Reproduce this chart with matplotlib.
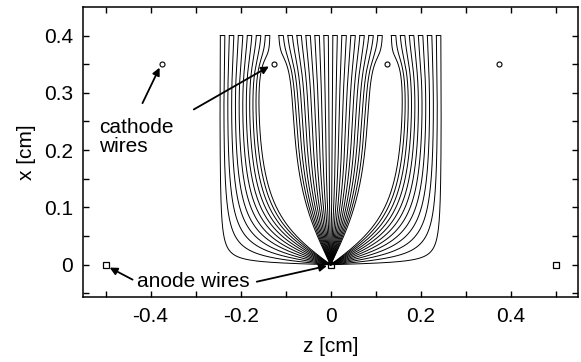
import numpy as np
import matplotlib.pyplot as plt

plt.rcParams['font.family'] = ['Liberation Sans', 'DejaVu Sans']
plt.rcParams['font.size'] = 15

# wire positions [cm]
anode_z = [-0.5, 0.0, 0.5]
anode_x = [0.0, 0.0, 0.0]
cathode_z = [-0.375, -0.125, 0.125, 0.375]
cathode_x = [0.35, 0.35, 0.35, 0.35]

# drift line start points on x = 0.4 (right half, mirrored to the left)
start_x = 0.4
start_z_half = [0.005, 0.015, 0.025, 0.035, 0.045, 0.055, 0.065, 0.075, 0.085,
                0.095, 0.105, 0.115, 0.135, 0.145, 0.155, 0.165, 0.175,
                0.185, 0.195, 0.205, 0.215, 0.225, 0.235, 0.245]
start_z = [-z for z in start_z_half[::-1]] + start_z_half

# cell description used for the drift line calculation
anode_pitch = 0.5
cathode_pitch = 0.25
anode_charge = 1.0
cathode_charge = 0.065

xticks_major = [-0.4, -0.2, 0.0, 0.2, 0.4]
xtick_labels = ['-0.4', '-0.2', '0', '0.2', '0.4']
xticks_minor = [-0.5, -0.3, -0.1, 0.1, 0.3, 0.5]
yticks_major = [0.0, 0.1, 0.2, 0.3, 0.4]
ytick_labels = ['0', '0.1', '0.2', '0.3', '0.4']
yticks_minor = [-0.05, 0.05, 0.15, 0.25, 0.35]


def grad(w):
    g = -anode_charge * (np.pi / anode_pitch) / np.tan(np.pi * (w - anode_z[1]) / anode_pitch)
    for xc in (cathode_x[1], -cathode_x[1]):
        wc = cathode_z[1] + 1j * xc
        g = g + cathode_charge * (np.pi / cathode_pitch) / np.tan(np.pi * (w - wc) / cathode_pitch)
    d = np.conj(g)
    return d / abs(d)


def drift_line(z0, x0, ds=0.0008, nmax=4000):
    w = complex(z0, x0)
    pts = [w]
    for _ in range(nmax):
        wm = w + 0.5 * ds * grad(w)
        w = w + ds * grad(wm)
        pts.append(w)
        if abs(w - anode_z[1]) < 0.002:
            pts.append(complex(anode_z[1], 0.0))
            break
    pts = np.array(pts)
    return pts.real, pts.imag


fig = plt.figure(figsize=(5.81, 3.62), dpi=100)
ax = fig.add_axes([0.143, 0.180, 0.852, 0.801])

ax.plot(anode_z, anode_x, 's', ms=4.2, mfc='white', mec='k', mew=0.9, zorder=1)
ax.plot(cathode_z, cathode_x, 'o', ms=3.6, mfc='white', mec='k', mew=0.8, zorder=3)

# drift lines, joined in pairs at the start plane
for i, z0 in enumerate(start_z):
    zz, xx = drift_line(z0, start_x)
    if i % 2 == 1:
        zz = np.concatenate([[start_z[i - 1]], zz])
        xx = np.concatenate([[start_x], xx])
    ax.plot(zz, xx, color='k', lw=0.7, zorder=2)

arrow = dict(arrowstyle='-|>', color='k', lw=1.3, mutation_scale=11, shrinkA=0, shrinkB=0)
ax.text(-0.514, 0.2235, 'cathode\nwires', ha='left', va='center', linespacing=1.0)
ax.annotate('', xy=(-0.380, 0.344), xytext=(-0.418, 0.282), arrowprops=arrow)
ax.annotate('', xy=(-0.137, 0.346), xytext=(-0.304, 0.271), arrowprops=arrow)
ax.text(-0.431, -0.0296, 'anode wires', ha='left', va='center')
ax.annotate('', xy=(-0.491, -0.005), xytext=(-0.440, -0.026), arrowprops=arrow)
ax.annotate('', xy=(-0.008, -0.002), xytext=(-0.164, -0.0296), arrowprops=arrow)

ax.set_xlim(-0.55, 0.55)
ax.set_ylim(-0.056, 0.45)
ax.set_xticks(xticks_major)
ax.set_xticklabels(xtick_labels)
ax.set_xticks(xticks_minor, minor=True)
ax.set_yticks(yticks_major)
ax.set_yticklabels(ytick_labels)
ax.set_yticks(yticks_minor, minor=True)
ax.tick_params(which='both', direction='in', top=True, right=True, length=4, width=1, pad=7)
ax.set_xlabel('z [cm]', labelpad=8)
ax.set_ylabel('x [cm]', labelpad=6)
for s in ax.spines.values():
    s.set_linewidth(1.1)

fig.savefig('out.png', dpi=100)
